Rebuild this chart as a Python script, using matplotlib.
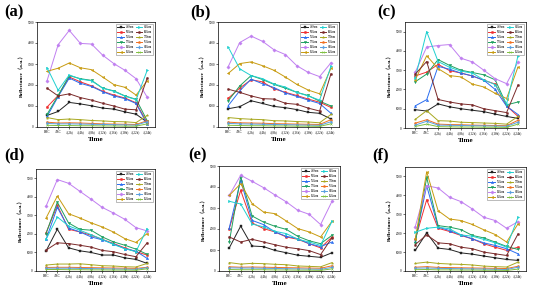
import matplotlib
matplotlib.use("Agg")
import matplotlib.pyplot as plt

times = ["BRC", "ARC", "A(2h)", "A(4h)", "A(8h)", "A(12h)", "A(16h)", "A(18h)", "A(22h)", "A(24h)"]
wavelengths = ["450nm", "500nm", "550nm", "570nm", "600nm", "650nm",
               "610nm", "680nm", "730nm", "760nm", "810nm", "860nm"]

# panel (a)
a_450 = [550, 740, 1170, 1100, 1010, 900, 850, 720, 610, 230]
a_500 = [950, 1500, 2380, 2150, 1960, 1700, 1520, 1380, 1150, 200]
a_550 = [500, 1450, 2330, 2080, 1930, 1680, 1480, 1350, 1120, 120]
a_570 = [600, 1500, 2450, 2300, 2220, 1850, 1720, 1480, 1320, 300]
a_600 = [2200, 3920, 4600, 3980, 3950, 3420, 3020, 2700, 2300, 1420]
a_650 = [2650, 2800, 3050, 2820, 2730, 2380, 2020, 1890, 1520, 2200]
a_610 = [2830, 1750, 2480, 2280, 2200, 1850, 1700, 1470, 1300, 2700]
a_680 = [1850, 1480, 1580, 1400, 1280, 1130, 1000, 850, 820, 2330]
a_730 = [450, 350, 380, 350, 310, 290, 260, 250, 210, 550]
a_760 = [230, 190, 200, 190, 170, 150, 140, 130, 120, 300]
a_810 = [170, 150, 150, 140, 130, 120, 110, 100, 90, 250]
a_860 = [80, 70, 70, 60, 60, 50, 50, 40, 40, 150]

# panel (b)
b_450 = [870, 970, 1250, 1120, 980, 920, 830, 700, 650, 380]
b_500 = [1370, 1850, 2250, 2150, 1820, 1650, 1500, 1330, 1180, 930]
b_550 = [1020, 1720, 2280, 2060, 1880, 1620, 1460, 1280, 1120, 650]
b_570 = [1250, 1950, 2450, 2260, 2030, 1850, 1650, 1500, 1230, 1000]
b_600 = [2880, 4020, 4330, 4080, 3680, 3450, 2920, 2600, 2400, 3060]
b_650 = [2550, 3020, 3100, 2920, 2700, 2380, 2030, 1760, 1580, 2800]
b_610 = [3800, 2770, 2450, 2300, 2050, 1900, 1650, 1480, 1280, 2900]
b_680 = [1800, 1650, 1480, 1350, 1330, 1130, 1080, 900, 760, 2540]
b_730 = [450, 400, 370, 350, 300, 290, 260, 240, 200, 600]
b_760 = [230, 200, 190, 180, 160, 150, 140, 130, 120, 350]
b_810 = [170, 150, 140, 130, 120, 110, 100, 90, 80, 250]
b_860 = [80, 70, 60, 60, 50, 50, 40, 40, 30, 150]

# panel (c)
c_450 = [950, 880, 1250, 1100, 1000, 920, 850, 720, 600, 500]
c_500 = [2700, 2900, 3300, 2980, 2850, 2700, 2480, 2280, 1150, 600]
c_550 = [1150, 1470, 3200, 3050, 2850, 2700, 2480, 2000, 1130, 700]
c_570 = [2400, 2800, 3550, 3250, 3000, 2880, 2760, 2500, 1200, 1350]
c_600 = [2900, 4200, 4280, 4330, 3620, 3430, 3000, 2560, 2300, 3430]
c_650 = [2500, 3750, 3080, 2720, 2650, 2280, 2130, 1800, 1530, 3170]
c_610 = [2600, 5000, 3450, 3150, 2950, 2850, 2500, 2250, 1250, 3750]
c_680 = [2800, 3450, 1480, 1350, 1250, 1200, 1000, 900, 800, 2230]
c_730 = [450, 900, 380, 360, 300, 280, 260, 240, 200, 600]
c_760 = [250, 430, 200, 180, 170, 150, 140, 130, 120, 400]
c_810 = [150, 350, 150, 140, 130, 120, 110, 100, 90, 300]
c_860 = [80, 200, 70, 60, 50, 50, 40, 40, 30, 200]

# panel (d)
d_450 = [1090, 2250, 1250, 1090, 1000, 860, 860, 710, 625, 410]
d_500 = [2070, 3540, 2250, 2110, 1930, 1710, 1480, 1250, 1040, 860]
d_550 = [1710, 3430, 2320, 2110, 1840, 1680, 1460, 1210, 1070, 680]
d_570 = [2020, 3710, 2590, 2250, 2200, 1840, 1570, 1390, 1180, 900]
d_600 = [3500, 4930, 4730, 4300, 3875, 3430, 3125, 2790, 2340, 2160]
d_650 = [2860, 4040, 3090, 2860, 2600, 2375, 2100, 1750, 1540, 2020]
d_610 = [1710, 2910, 2430, 2200, 1960, 1710, 1430, 1210, 1040, 2290]
d_680 = [1125, 1520, 1480, 1390, 1290, 1110, 1040, 890, 770, 1520]
d_730 = [320, 375, 375, 390, 340, 285, 270, 230, 215, 410]
d_760 = [190, 200, 200, 190, 180, 170, 160, 150, 140, 200]
d_810 = [150, 150, 150, 140, 130, 120, 110, 100, 90, 180]
d_860 = [80, 80, 70, 70, 60, 60, 50, 50, 40, 120]

# panel (e)
e_450 = [1100, 2140, 1190, 1160, 980, 870, 750, 700, 650, 870]
e_500 = [2020, 3840, 2290, 2020, 1860, 1620, 1510, 1300, 1100, 1620]
e_550 = [2050, 4320, 2410, 2210, 1860, 1650, 1540, 1300, 1160, 1380]
e_570 = [1380, 4490, 2620, 2330, 2130, 1980, 1650, 1440, 1300, 1700]
e_600 = [3600, 4560, 4270, 3970, 3620, 3290, 2890, 2700, 2210, 3320]
e_650 = [3600, 4160, 3210, 2810, 2730, 2380, 2020, 1860, 1620, 2370]
e_610 = [3320, 3190, 2240, 2100, 1890, 1780, 1510, 1380, 1220, 2370]
e_680 = [1620, 1380, 1510, 1380, 1250, 1130, 1060, 970, 780, 1590]
e_730 = [400, 330, 365, 350, 320, 300, 240, 220, 200, 400]
e_760 = [200, 180, 190, 180, 170, 160, 150, 140, 130, 250]
e_810 = [150, 140, 140, 130, 120, 110, 100, 90, 80, 170]
e_860 = [70, 60, 60, 60, 50, 50, 40, 40, 30, 100]

# panel (f)
f_450 = [1090, 2020, 1210, 1140, 960, 890, 790, 700, 610, 560]
f_500 = [1670, 3770, 2260, 2090, 1880, 1700, 1440, 1260, 1090, 1260]
f_550 = [1610, 4510, 2320, 2140, 1910, 1700, 1490, 1350, 1180, 910]
f_570 = [1490, 4950, 2400, 2320, 2190, 1880, 1750, 1530, 1300, 1140]
f_600 = [2350, 4510, 4390, 3900, 3670, 3280, 2840, 2670, 2260, 2610]
f_650 = [1700, 5250, 3190, 2750, 2670, 2460, 2180, 1930, 1530, 2490]
f_610 = [2050, 2260, 2320, 2230, 1910, 1840, 1670, 1490, 1260, 2840]
f_680 = [1400, 1910, 1490, 1440, 1260, 1180, 1000, 910, 820, 1960]
f_730 = [400, 470, 400, 370, 350, 320, 260, 230, 210, 470]
f_760 = [200, 230, 190, 180, 170, 160, 150, 140, 130, 250]
f_810 = [150, 160, 140, 130, 120, 110, 100, 90, 80, 200]
f_860 = [70, 80, 60, 60, 50, 50, 40, 40, 30, 100]

panels = [
    ("(a)", [a_450, a_500, a_550, a_570, a_600, a_650, a_610, a_680, a_730, a_760, a_810, a_860], 5000),
    ("(b)", [b_450, b_500, b_550, b_570, b_600, b_650, b_610, b_680, b_730, b_760, b_810, b_860], 5000),
    ("(c)", [c_450, c_500, c_550, c_570, c_600, c_650, c_610, c_680, c_730, c_760, c_810, c_860], 5500),
    ("(d)", [d_450, d_500, d_550, d_570, d_600, d_650, d_610, d_680, d_730, d_760, d_810, d_860], 5500),
    ("(e)", [e_450, e_500, e_550, e_570, e_600, e_650, e_610, e_680, e_730, e_760, e_810, e_860], 5000),
    ("(f)", [f_450, f_500, f_550, f_570, f_600, f_650, f_610, f_680, f_730, f_760, f_810, f_860], 5500),
]

colors = ["#222222", "#f03030", "#2a6df0", "#1fa060", "#c07ff0", "#c89b10",
          "#20d0d0", "#7a2a2a", "#a8a820", "#f07020", "#5aa0e0", "#80c040"]
markers = ["s", "o", "^", "v", "D", "<", ">", "h", "*", "p", "d", "x"]

W, H = 550, 287
boxes = [(37, 22, 155, 127), (218, 22, 339, 127), (405, 22, 526, 128),
         (36, 169, 155, 271), (219, 166, 340, 271), (405, 167, 526, 271)]
label_pos = [(4, 12), (190, 12), (377, 12), (4, 155), (188, 155), (372, 155)]

serif = ["Liberation Serif", "DejaVu Serif"]
ylab_fam = ["Liberation Serif", "Noto Sans CJK SC"]

fig = plt.figure(figsize=(W / 100, H / 100), dpi=100)
for (lab, series, ymax), (x0, y0, x1, y1), (lx, ly) in zip(panels, boxes, label_pos):
    ax = fig.add_axes([x0 / W, 1 - y1 / H, (x1 - x0) / W, (y1 - y0) / H])
    x = list(range(len(times)))
    for vals, name, c, m in zip(series, wavelengths, colors, markers):
        ax.plot(x, vals, color=c, marker=m, markersize=1.7, linewidth=0.7,
                markeredgewidth=0.3, label=name)
    ax.set_xlim(-0.9, len(times) - 0.3)
    ax.set_ylim(0, ymax)
    ax.set_yticks([0, 1000, 2000, 3000, 4000, 5000])
    ax.set_xticks(x)
    ax.set_xticklabels(times, fontsize=2.3, family=serif)
    for t in ax.get_yticklabels():
        t.set_fontsize(2.3)
        t.set_family(serif)
    ax.tick_params(axis="both", length=1.2, width=0.4, pad=1)
    for s in ax.spines.values():
        s.set_linewidth(0.5)
    ax.set_xlabel("Time", fontsize=5, fontweight="bold", family=serif, labelpad=2)
    ax.set_ylabel("Reflectance（a.u.）", fontsize=3.8, fontweight="bold", family=ylab_fam, labelpad=2)
    leg = ax.legend(ncol=2, loc="upper right", frameon=True,
                    fancybox=False, edgecolor="#888888", framealpha=1,
                    handlelength=2.2, handletextpad=0.4, columnspacing=0.6,
                    labelspacing=0.3, borderpad=0.45, borderaxespad=0.6,
                    prop={"family": serif, "size": 2.2})
    leg.get_frame().set_linewidth(0.4)
    fig.text(lx / W, 1 - ly / H, lab, fontsize=12, fontweight="bold",
             family=serif, va="center", ha="left")

fig.savefig("out.png", dpi=100)
